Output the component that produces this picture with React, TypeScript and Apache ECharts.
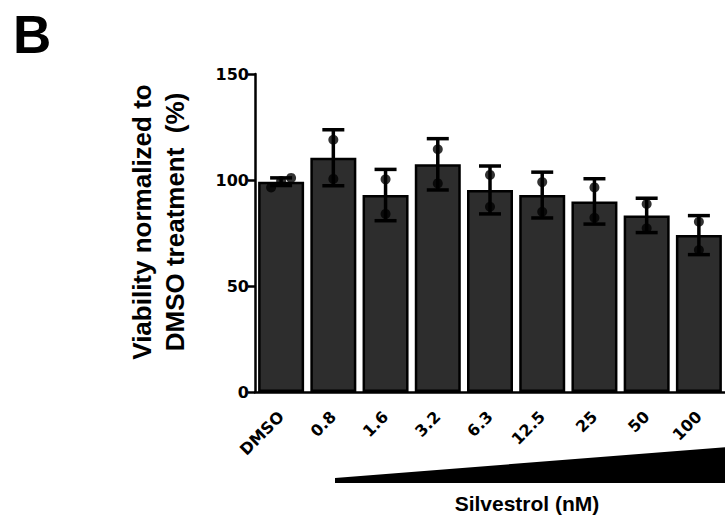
import React, { useEffect, useRef } from "react";
import * as echarts from "echarts";

const categories = ["DMSO", "0.8", "1.6", "3.2", "6.3", "12.5", "25", "50", "100"];
const means = [99.2, 110.5, 92.9, 107.4, 95.3, 92.9, 89.9, 83.3, 74.0];
const sds = [1.8, 13.2, 12.1, 12.1, 11.3, 10.8, 10.7, 8.1, 9.2];
const replicates: number[][] = [
  [96.5, 99.5, 101],
  [119, 100.5],
  [100.3, 84],
  [114.5, 98.4],
  [102.4, 87.4],
  [99, 85],
  [96.5, 82.2],
  [88.7, 77.2],
  [80.3, 67],
];
const yTicks = { min: 0, max: 150, interval: 50 };
const yTitle = "Viability normalized to\nDMSO treatment  (%)";
const xTitle = "Silvestrol (nM)";
const panelLetter = "B";

const FONT = "'Liberation Sans', Arial, sans-serif";
const TICKFONT = "'DejaVu Sans', Verdana, sans-serif";

export default function App() {
  const ref = useRef<HTMLDivElement>(null);
  useEffect(() => {
    if (!ref.current) return;
    const chart = echarts.init(ref.current, null, { renderer: "svg" });

    const errData = means.map((m, i) => [i, m - sds[i], m + sds[i]]);
    const pointData: any[] = [];
    replicates.forEach((reps, i) => {
      const n = reps.length;
      reps.forEach((v, j) => {
        const off = n > 2 ? (j - (n - 1) / 2) * 10 : 0;
        pointData.push({ value: [i, v], symbolOffset: [off, 0] });
      });
    });

    chart.setOption({
      animation: false,
      grid: { left: 255, top: 74, bottom: 126, right: -3.5, containLabel: false },
      xAxis: {
        type: "category",
        data: categories,
        axisLine: { lineStyle: { color: "#000", width: 2.5 } },
        axisTick: { alignWithLabel: true, length: 8, lineStyle: { color: "#000", width: 2.5 } },
        axisLabel: {
          rotate: 45,
          margin: 22,
          color: "#000",
          fontWeight: "bold",
          fontSize: 16,
          fontFamily: TICKFONT,
        },
      },
      yAxis: {
        type: "value",
        min: yTicks.min,
        max: yTicks.max,
        interval: yTicks.interval,
        splitLine: { show: false },
        axisLine: { show: true, lineStyle: { color: "#000", width: 2.5 } },
        axisTick: { show: true, length: 7, lineStyle: { color: "#000", width: 2.5 } },
        axisLabel: { color: "#000", fontWeight: "bold", fontSize: 16, fontFamily: TICKFONT, margin: 6 },
      },
      graphic: [
        {
          type: "text",
          left: 13,
          top: 8,
          style: { text: panelLetter, font: `bold 53px ${FONT}`, fill: "#000" },
        },
        {
          type: "text",
          x: 158,
          y: 222,
          rotation: Math.PI / 2,
          style: {
            text: yTitle,
            font: `bold 26px ${FONT}`,
            fill: "#000",
            align: "center",
            verticalAlign: "middle",
            lineHeight: 33,
          },
        },
        {
          type: "polygon",
          shape: { points: [[335, 483], [335, 478], [740, 446], [740, 483]] },
          style: { fill: "#000" },
        },
        {
          type: "text",
          x: 527,
          y: 503,
          style: {
            text: xTitle,
            font: `bold 21px ${FONT}`,
            fill: "#000",
            align: "center",
            verticalAlign: "middle",
          },
        },
      ],
      series: [
        {
          type: "bar",
          data: means,
          barWidth: 46,
          itemStyle: { color: "#2d2d2d", borderColor: "#000", borderWidth: 2.5 },
          z: 1,
        },
        {
          type: "custom",
          data: errData,
          z: 3,
          renderItem: (params: any, api: any) => {
            const x = api.value(0);
            const lo = api.coord([x, api.value(1)]);
            const hi = api.coord([x, api.value(2)]);
            const hw = 11;
            const st = { stroke: "#000", lineWidth: 3.5 };
            return {
              type: "group",
              children: [
                { type: "line", shape: { x1: lo[0], y1: lo[1], x2: hi[0], y2: hi[1] }, style: st },
                { type: "line", shape: { x1: hi[0] - hw, y1: hi[1], x2: hi[0] + hw, y2: hi[1] }, style: st },
                { type: "line", shape: { x1: lo[0] - hw, y1: lo[1], x2: lo[0] + hw, y2: lo[1] }, style: st },
              ],
            };
          },
        },
        {
          type: "scatter",
          data: pointData,
          symbol: "circle",
          symbolSize: 10,
          itemStyle: { color: "#000" },
          z: 4,
        },
      ],
    });
    return () => chart.dispose();
  }, []);
  return (
    <div
      ref={ref}
      style={{ position: "absolute", left: 0, top: 0, width: 725, height: 518, background: "#fff" }}
    />
  );
}
